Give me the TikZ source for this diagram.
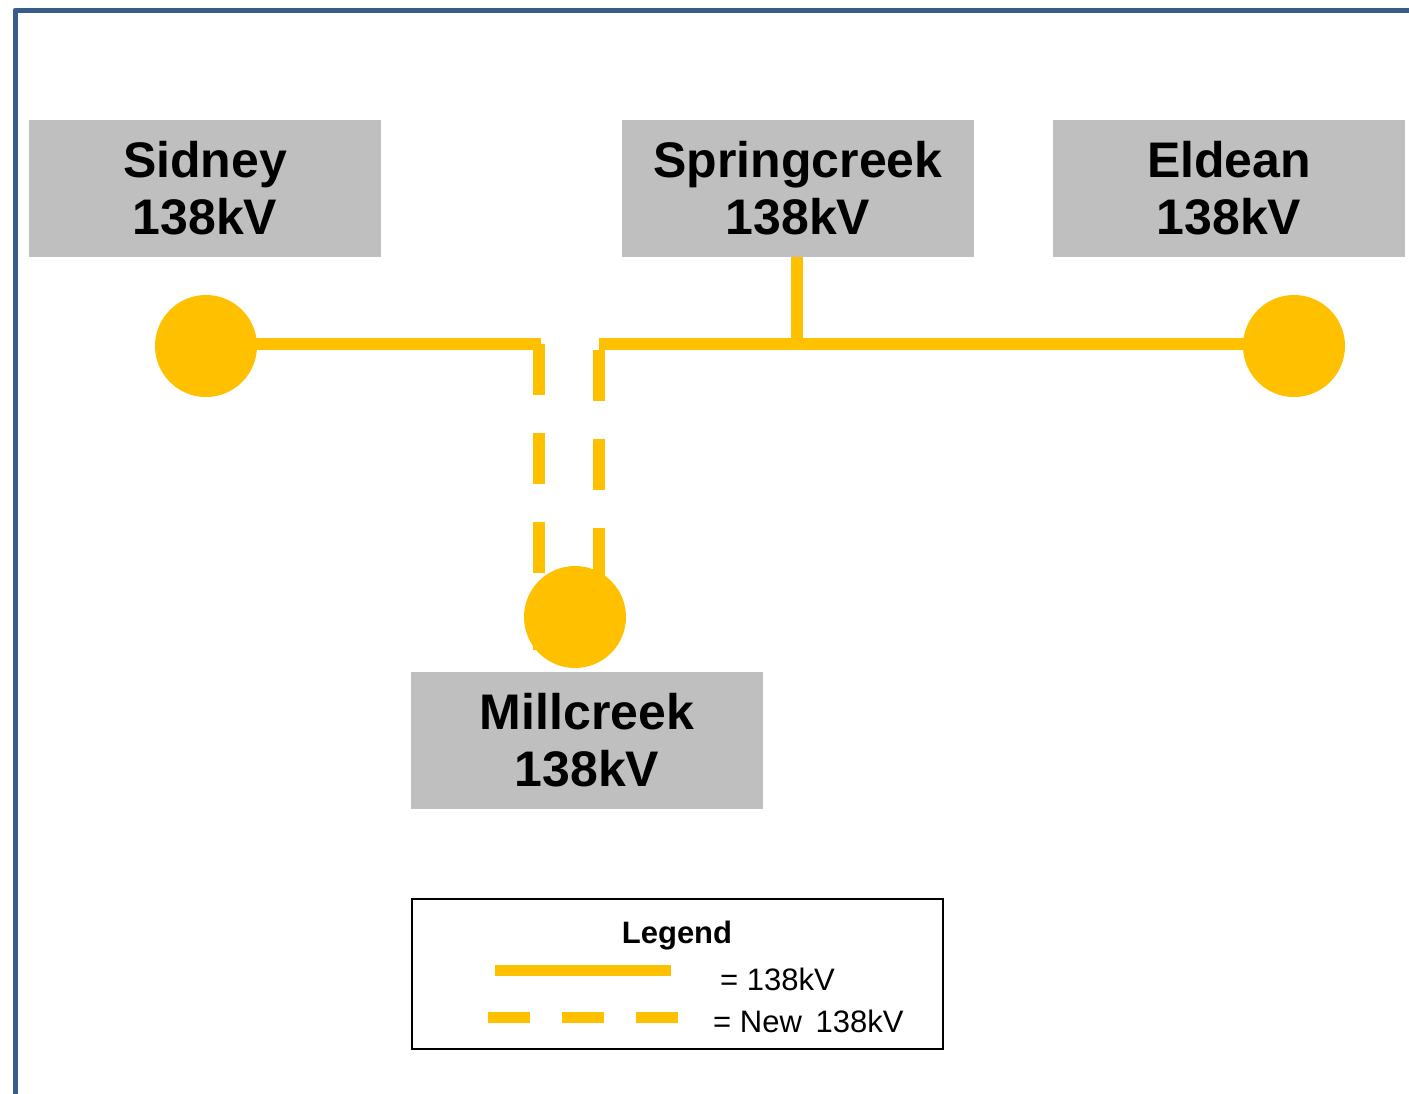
\documentclass[tikz,border=0pt]{standalone}
\usepackage{fontspec}
\setmainfont{Liberation Sans}
\usetikzlibrary{backgrounds}
\definecolor{gold}{HTML}{FFC000}
\definecolor{boxgray}{HTML}{BFBFBF}
\definecolor{frameblue}{HTML}{385D8A}
\tikzset{
  station/.style={rectangle, fill=boxgray, minimum width=352pt, minimum height=137pt, inner sep=0pt, align=center, font=\fontsize{50}{57}\selectfont\bfseries},
  bus/.style={circle, fill=gold, minimum size=102pt, inner sep=0pt},
  line138/.style={draw=gold, line width=12pt},
  newline/.style={draw=gold, line width=12pt, dash pattern=on 51pt off 38pt},
  legtext/.style={font=\fontsize{31}{36}\selectfont, inner sep=0pt}
}
\begin{document}
\begin{tikzpicture}[x=1pt,y=-1pt]
\useasboundingbox (0,0) rectangle (1409,1093);
% frame
\coordinate (fb) at (15,1100);
\coordinate (fc) at (15,10);
\coordinate (fr) at (1415,10);
\draw[frameblue, line width=5pt, line join=round] (fb) -- (fc) -- (fr);
% stations
\node[station] (sid) at (205,188.5) {Sidney\\138kV};
\node[station] (spr) at (798,188.5) {Springcreek\\138kV};
\node[station] (eld) at (1229,188.5) {Eldean\\138kV};
\node[station] (mil) at (587,740.5) {Millcreek\\138kV};
% buses
\node[bus] (sidb) at (206,346) {};
\node[bus] (eldb) at (1294,346) {};
\node[bus] (milb) at (575,617) {};
% junction coordinates
\coordinate (lh) at (541,344);
\coordinate (lv) at (539,344);
\coordinate (ld) at (539,650);
\coordinate (rh) at (598.7,344);
\coordinate (rv) at (598.5,350);
\coordinate (rd) at (598.5,617);
\coordinate (sj) at (797,344);
\begin{pgfonlayer}{background}
\draw[line138] (sidb.center |- lh) -- (lh);
\draw[newline] (lv) -- (ld);
\draw[line138] (rh) -- (eldb.center |- rh);
\draw[newline] (rv) -- (rd);
\draw[line138] (spr.south -| sj) -- (sj);
\end{pgfonlayer}
% legend
\node[draw=black, line width=2pt, minimum width=531pt, minimum height=150pt, inner sep=0pt] (leg) at (677.5,974) {};
\node[legtext, font=\fontsize{31}{36}\selectfont\bfseries, anchor=base] (legt) at (677,943) {Legend};
\coordinate (l1a) at (495,970);
\coordinate (l1b) at (671,970);
\coordinate (l2a) at (488,1017);
\coordinate (l2b) at (679,1017);
\draw[draw=gold, line width=11pt] (l1a) -- (l1b);
\draw[draw=gold, line width=11pt, dash pattern=on 42pt off 32pt] (l2a) -- (l2b);
\node[legtext, anchor=west] (t1) at (720,979) {= 138kV};
\node[legtext, anchor=west] (t2) at (713,1021) {= New\ \,138kV};
\end{tikzpicture}
\end{document}
